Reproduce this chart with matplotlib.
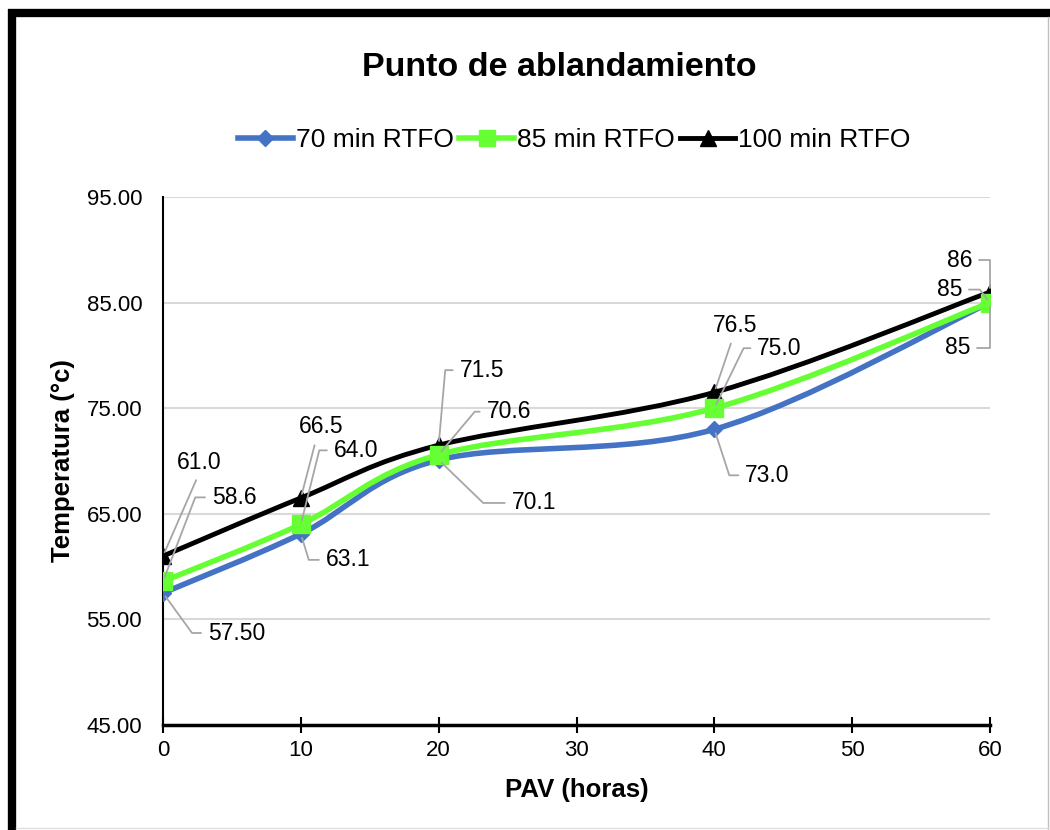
import numpy as np
import matplotlib.pyplot as plt
from matplotlib.path import Path
from matplotlib.patches import PathPatch
from matplotlib.lines import Line2D

#----Data----

pav_horas = [0, 10, 20, 40, 60]
rtfo_70 = [57.5, 63.1, 70.1, 73.0, 85]
rtfo_85 = [58.6, 64.0, 70.6, 75.0, 85]
rtfo_100 = [61.0, 66.5, 71.5, 76.5, 86]

labels_70 = ["57.50", "63.1", "70.1", "73.0", "85"]
labels_85 = ["58.6", "64.0", "70.6", "75.0", "85"]
labels_100 = ["61.0", "66.5", "71.5", "76.5", "86"]

series_names = ["70 min RTFO", "85 min RTFO", "100 min RTFO"]

plt.rcParams["font.family"] = ["Liberation Sans", "DejaVu Sans"]

BLUE = "#4472C4"
GREEN = "#66FF33"
BLACK = "#000000"
LEADER = "#A6A6A6"


def smooth_path(x, y):
    # excel style smoothed line: cubic bezier segments through the points
    pts = np.column_stack([x, y]).astype(float)
    n = len(pts)
    verts = [pts[0]]
    codes = [Path.MOVETO]
    for i in range(n - 1):
        p0 = pts[i - 1] if i > 0 else pts[i]
        p1 = pts[i]
        p2 = pts[i + 1]
        p3 = pts[i + 2] if i + 2 < n else pts[i + 1]
        c1 = p1 + (p2 - p0) / 6
        c2 = p2 - (p3 - p1) / 6
        verts += [c1, c2, p2]
        codes += [Path.CURVE4] * 3
    return Path(verts, codes)


fig = plt.figure(figsize=(10.5, 8.3), dpi=100)
ax = fig.add_axes([163 / 1050, 105 / 830, 827 / 1050, 528 / 830])

styles = [
    (rtfo_100, BLACK, "^", 12, 3.5, 3),
    (rtfo_70, BLUE, "D", 8, 4, 4),
    (rtfo_85, GREEN, "s", 13, 4, 5),
]
for vals, col, mk, ms, lw, z in styles:
    ax.add_patch(PathPatch(smooth_path(pav_horas, vals), facecolor="none",
                           edgecolor=col, lw=lw, zorder=z, capstyle="round"))
    ax.plot(pav_horas, vals, linestyle="none", marker=mk, markersize=ms,
            color=col, zorder=z)

#----Data labels----
# (dx, dy) text offset in pixels, align, relpos of leader, elbow angle or None
layout_100 = [((36, 94), "center", (0.5, 0), None),
              ((20, 71), "center", (0.4, 0), None),
              ((21, 75), "left", (0, 0.5), 85),
              ((21, 67), "center", (0.45, 0), None),
              ((-18, 32), "right", (1, 0.5), 90)]
layout_85 = [((49, 84), "left", (0, 0.5), 69),
             ((33, 74), "left", (0, 0.5), 76),
             ((48, 43), "left", (0, 0.5), 50),
             ((43, 60), "left", (0, 0.5), 64),
             ((-28, 13), "right", (1, 0.5), 128)]
layout_70 = [((45, -40), "left", (0, 0.5), -54),
             ((25, -26), "left", (0, 0.5), -73),
             ((73, -43), "left", (0, 0.5), -44),
             ((31, -46), "left", (0, 0.5), -72),
             ((-20, -45), "right", (1, 0.5), 90)]

for vals, texts, layout in [(rtfo_100, labels_100, layout_100),
                            (rtfo_85, labels_85, layout_85),
                            (rtfo_70, labels_70, layout_70)]:
    for xv, yv, txt, (off, ha, rel, ang) in zip(pav_horas, vals, texts, layout):
        if ang is None:
            conn = "arc3"
        else:
            conn = f"angle,angleA=0,angleB={ang},rad=0"
        ax.annotate(txt, xy=(xv, yv), xytext=off, textcoords="offset pixels",
                    ha=ha, va="center", fontsize=16.5, color="#000000", zorder=6,
                    arrowprops=dict(arrowstyle="-", color=LEADER, lw=1.3,
                                    connectionstyle=conn, relpos=rel,
                                    shrinkA=3, shrinkB=3))

#----Axes----

ax.set_xlim(0, 60)
ax.set_ylim(45, 95)
ax.set_xticks(np.arange(0, 61, 10))
ax.set_yticks(np.arange(45, 96, 10))
ax.set_yticklabels([f"{v:.2f}" for v in np.arange(45, 96, 10)])
ax.tick_params(axis="x", direction="inout", length=12, width=1.5, labelsize=16, pad=5)
ax.tick_params(axis="y", length=0, labelsize=16, pad=15)
ax.grid(axis="y", color="#D9D9D9", lw=1.5)
ax.set_axisbelow(True)
for s in ["top", "right"]:
    ax.spines[s].set_visible(False)
ax.spines["left"].set_linewidth(1.5)
ax.spines["bottom"].set_linewidth(2.5)
ax.spines["bottom"].set_zorder(2)

ax.set_xlabel("PAV (horas)", fontsize=18.5, fontweight="bold", labelpad=12)
ax.set_ylabel("Temperatura (°c)", fontsize=18.5, fontweight="bold", labelpad=8)

fig.text(559 / 1050, 1 - 68 / 830, "Punto de ablandamiento", ha="center",
         va="center", fontsize=24.5, fontweight="bold")

handles = [Line2D([], [], color=BLUE, lw=4, marker="D", markersize=8),
           Line2D([], [], color=GREEN, lw=4, marker="s", markersize=12),
           Line2D([], [], color=BLACK, lw=3.5, marker="^", markersize=11)]
fig.legend(handles, series_names, loc="center", bbox_to_anchor=(574 / 1050, 1 - 140 / 830),
           ncol=3, frameon=False, fontsize=19, handlelength=2.1,
           handletextpad=0.1, columnspacing=0.2, borderpad=0)

#----Frame----

fig.add_artist(Line2D([12 / 1050, 12 / 1050], [0, 1 - 9 / 830], color="black", lw=6,
                      transform=fig.transFigure, solid_capstyle="butt"))
fig.add_artist(Line2D([8 / 1050, 1], [1 - 13 / 830, 1 - 13 / 830], color="black", lw=6,
                      transform=fig.transFigure, solid_capstyle="butt"))
fig.add_artist(Line2D([1047.5 / 1050, 1047.5 / 1050], [0, 1 - 17 / 830], color="#BFBFBF",
                      lw=1, transform=fig.transFigure))
fig.add_artist(Line2D([16 / 1050, 1], [2.5 / 830, 2.5 / 830], color="#E0E0E0",
                      lw=1, transform=fig.transFigure))

fig.savefig("out.png", dpi=100)
